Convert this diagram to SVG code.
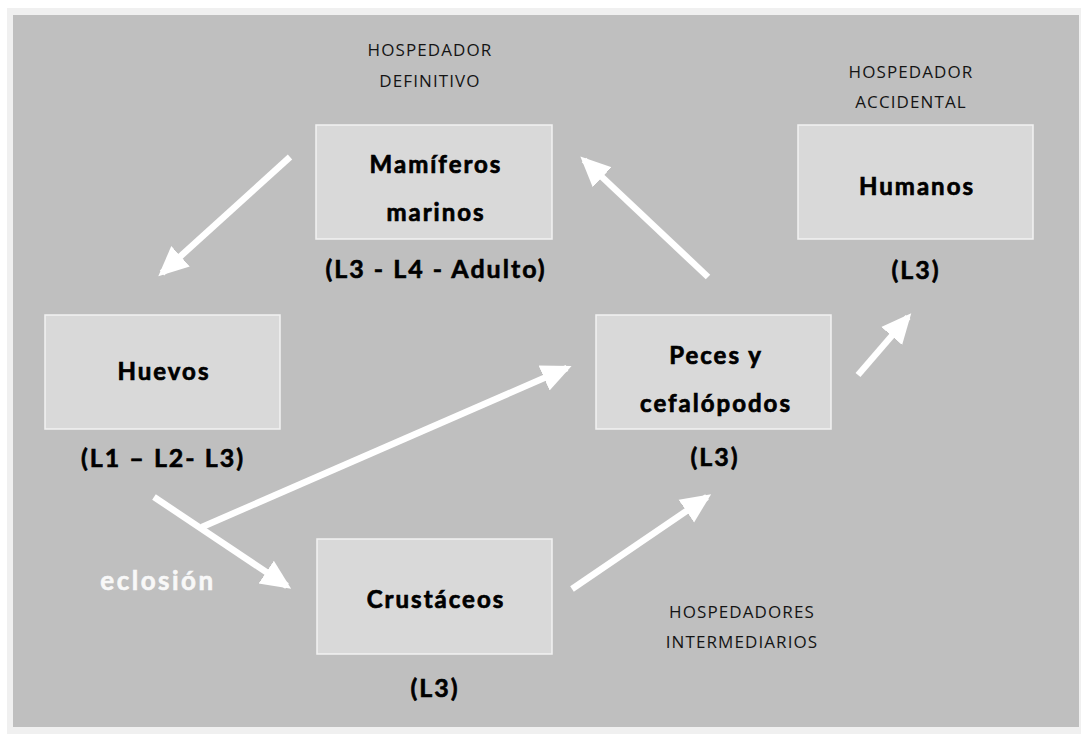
<svg xmlns="http://www.w3.org/2000/svg" width="1081" height="734" viewBox="0 0 1081 734">
<defs>
<style>
.box{fill:#d9d9d9;stroke:#f2f2f2;stroke-width:1.5}
.lbl{font-family:Lato,"Liberation Sans",sans-serif;font-weight:bold;font-size:24px;fill:#000;stroke:#000;stroke-width:0.7;text-anchor:middle;letter-spacing:2px}
.stage{font-family:Lato,"Liberation Sans",sans-serif;font-weight:bold;font-size:25px;fill:#000;stroke:#000;stroke-width:0.6;text-anchor:middle;letter-spacing:2px}
.host{font-family:"Open Sans","Liberation Sans",sans-serif;font-size:17px;fill:#141414;text-anchor:middle;letter-spacing:1.1px}
.arr{stroke:#fff;stroke-width:6.5;fill:none;marker-end:url(#ah)}
</style>
<marker id="ah" markerUnits="userSpaceOnUse" markerWidth="30" markerHeight="30" viewBox="0 0 24 22" refX="20" refY="11" orient="auto">
<path d="M0,0 L24,11 L0,22 z" fill="#fff"/>
</marker>
</defs>
<rect x="0" y="0" width="1081" height="734" fill="#fff"/>
<rect x="7" y="8" width="1074" height="726" fill="#f0f0f0"/>
<rect x="13" y="15" width="1066" height="712" fill="#bfbfbf"/>
<g id="connectors">
<line class="arr" x1="290" y1="157" x2="162" y2="273"/>
<line class="arr" x1="708" y1="277" x2="584" y2="160"/>
<line class="arr" x1="858" y1="375" x2="908" y2="317"/>
<line class="arr" x1="202" y1="527" x2="567" y2="368"/>
<line class="arr" x1="154" y1="497" x2="287" y2="586"/>
<line class="arr" x1="572" y1="589" x2="707" y2="497"/>
</g>
<g id="label-definitivo">
<text class="host" x="430" y="56">HOSPEDADOR</text>
<text class="host" x="430" y="87">DEFINITIVO</text>
</g>
<g id="label-accidental">
<text class="host" x="911" y="78">HOSPEDADOR</text>
<text class="host" x="911" y="108">ACCIDENTAL</text>
</g>
<g id="label-intermediarios">
<text class="host" x="742" y="618">HOSPEDADORES</text>
<text class="host" x="742" y="648">INTERMEDIARIOS</text>
</g>
<g id="node-mamiferos">
<rect class="box" x="316" y="125" width="236" height="114"/>
<text class="lbl" x="436" y="173">Mamíferos</text>
<text class="lbl" x="436" y="221">marinos</text>
<text class="stage" x="436" y="278">(L3 - L4 - Adulto)</text>
</g>
<g id="node-humanos">
<rect class="box" x="798" y="125" width="235" height="114"/>
<text class="lbl" x="917" y="195">Humanos</text>
<text class="stage" x="916" y="279">(L3)</text>
</g>
<g id="node-huevos">
<rect class="box" x="45" y="315" width="235" height="114"/>
<text class="lbl" x="164" y="380">Huevos</text>
<text class="stage" x="163" y="467">(L1 – L2- L3)</text>
</g>
<g id="node-peces">
<rect class="box" x="596" y="315" width="235" height="114"/>
<text class="lbl" x="716" y="364">Peces y</text>
<text class="lbl" x="716" y="412">cefalópodos</text>
<text class="stage" x="715" y="466">(L3)</text>
</g>
<g id="node-crustaceos">
<rect class="box" x="317" y="539" width="235" height="115"/>
<text class="lbl" x="436" y="608">Crustáceos</text>
<text class="stage" x="435" y="697">(L3)</text>
</g>
<text x="158" y="590" font-family="Lato,'Liberation Sans',sans-serif" font-weight="bold" font-size="26" fill="#f8f8f8" stroke="#f8f8f8" stroke-width="0.6" text-anchor="middle" letter-spacing="2.5">eclosión</text>
</svg>
